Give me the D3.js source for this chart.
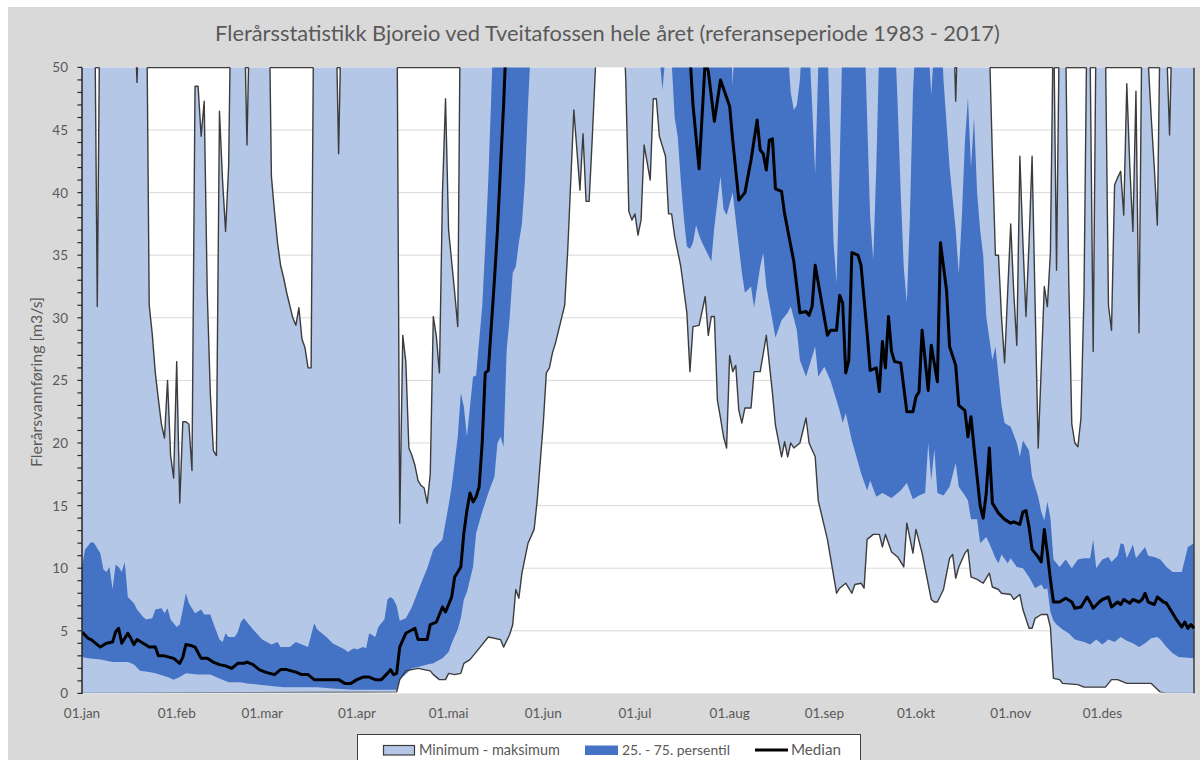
<!DOCTYPE html>
<html><head><meta charset="utf-8">
<script src="https://cdn.jsdelivr.net/npm/d3@7"></script>
<style>body{margin:0;background:#fff;}svg{display:block;}</style>
</head><body>
<svg id="chart" width="1200" height="760"></svg>
<script>
// ---------------- DATA ----------------
const chartTitle = "Flerårsstatistikk Bjoreio ved Tveitafossen hele året (referanseperiode 1983 - 2017)";
const yAxisTitle = "Flerårsvannføring [m3/s]";
const monthLabels = ["01.jan","01.feb","01.mar","01.apr","01.mai","01.jun","01.jul","01.aug","01.sep","01.okt","01.nov","01.des"];
const monthStartDays = [0,31,59,90,120,151,181,212,243,273,304,334];
const yTickValues = [0,5,10,15,20,25,30,35,40,45,50];
const legendLabels = ["Minimum - maksimum","25. - 75. persentil","Median"];

// [day of year, m3/s]
const maxSeries = [[0,60],[4,60],[5,30.9],[6,60],[17,56],[18,48.8],[19,56],[21,60],[22,31.0],[23,28.7],[24,25.6],[25,23.5],[26,21.5],[27,20.4],[28,25.0],[29,19.0],[30,17.2],[31,26.5],[32,15.2],[33,21.7],[34,21.7],[35,21.5],[36,17.8],[37,48.5],[38,48.5],[39,44.5],[40,47.3],[41,32.0],[42,24.0],[43,19.4],[44,19.0],[45,46.5],[46,41.0],[47,36.9],[48,42.1],[49,60],[53,56],[54,43.8],[55,56],[61,60],[62,41.3],[63,38.5],[64,36.0],[65,34.2],[66,33.2],[67,32.0],[68,31.0],[69,30.0],[70,29.4],[71,30.8],[72,28.3],[73,27.6],[74,26.0],[75,26.0],[76,60],[83,56],[84,43.1],[85,56],[103,60],[104,13.6],[105,28.6],[106,26.5],[107,19.6],[108,19.0],[109,18.2],[110,17.0],[111,16.6],[112,16.4],[113,15.2],[114,17.5],[115,30.1],[116,28.5],[117,25.6],[118,40.0],[119,47.5],[120,37.0],[121,34.5],[122,32.0],[123,29.3],[124,60],[285,56],[286,47.3],[287,56],[296,60],[297,52],[298,43],[299,35.0],[300,35.0],[301,30.0],[302,26.4],[303,32.0],[304,37.5],[305,32.0],[306,27.8],[307,42.9],[308,36.0],[309,30.1],[310,36.0],[311,42.9],[312,31.0],[313,19.6],[314,26.0],[315,32.5],[316,30.9],[317,35.2],[318,55],[319,33.8],[320,55],[321,60],[322,52],[323,33],[324,21.5],[325,20.0],[326,19.7],[327,22.0],[328,32.0],[329,55],[330,51],[331,27.3],[332,55],[334,60],[335,52],[336,31],[337,29.0],[338,40.6],[339,41.2],[340,41.7],[341,38.2],[342,48.7],[343,42],[344,36.9],[345,48.1],[346,28.8],[347,55],[348,55],[349,50.5],[350,46],[351,42],[352,37.4],[353,55],[355,52],[356,44.6],[357,55],[364,60]];

const minSeries = [[0,0],[103,0.1],[104,1.1],[106,1.8],[110,2.0],[114,1.8],[115,1.5],[117,1.1],[119,1.1],[120,1.6],[122,1.5],[124,1.6],[125,2.4],[127,2.7],[130,3.6],[133,4.5],[137,4.3],[138,3.7],[140,4.7],[141,5.5],[142,8.3],[143,7.6],[144,9.6],[146,12.0],[148,13.1],[149,15.4],[151,21.6],[152,25.6],[153,26.0],[154,27.2],[155,28.0],[157,30.0],[158,31.0],[159,35.4],[161,46.6],[163,40.2],[164,44.7],[165,39.3],[166,39.3],[167,44.2],[169,55],[177,55],[178,49],[179,38.5],[180,37.8],[181,38.3],[182,36.6],[183,37.8],[184,43.8],[186,41.0],[187,47.5],[188,47.5],[189,44.5],[190,43.7],[191,42.9],[192,38.3],[193,38.3],[194,36.5],[196,34.1],[198,30.4],[199,25.7],[200,29.3],[202,29.4],[204,31.7],[205,28.6],[206,30.1],[207,30.1],[208,23.4],[209,22.0],[210,20.5],[211,19.6],[212,27.0],[213,25.7],[214,26.2],[215,22.6],[216,21.6],[217,22.8],[219,22.8],[220,25.7],[222,25.7],[224,28.6],[226,24.0],[227,21.4],[229,18.9],[230,20.1],[231,18.9],[232,20.0],[233,19.6],[235,20.0],[237,22.0],[238,20.0],[240,18.9],[241,15.4],[244,12.3],[247,8.0],[248,8.4],[250,8.8],[252,8.0],[253,8.7],[255,8.8],[256,8.4],[257,12.3],[259,12.7],[261,12.7],[262,11.7],[263,12.7],[265,11.3],[267,10.9],[269,10.1],[270,13.6],[272,11.2],[273,13.1],[275,11.2],[278,7.5],[279,7.3],[280,7.3],[282,8.3],[284,10.8],[285,11.1],[286,9.2],[287,10.1],[289,11.2],[290,11.5],[291,9.3],[293,9.1],[295,8.8],[297,9.6],[298,8.5],[300,8.3],[301,8.0],[304,7.9],[305,7.5],[307,7.9],[308,6.7],[310,5.2],[311,5.2],[312,6.0],[314,6.3],[316,6.3],[317,5.3],[318,1.2],[320,1.1],[321,0.8],[326,0.7],[328,0.5],[335,0.5],[337,1.1],[339,1.1],[342,0.8],[350,0.8],[353,0.1],[355,0],[364,0]];

const p25Series = [[0,2.9],[2,2.8],[6,2.7],[10,2.5],[15,2.5],[17,2.3],[19,1.8],[22,1.7],[24,1.6],[28,1.3],[30,1.1],[32,1.3],[34,1.6],[38,1.5],[42,1.5],[45,1.2],[48,0.9],[52,0.9],[54,0.8],[58,0.7],[66,0.5],[77,0.5],[82,0.4],[89,0.3],[103,0.3],[104,1.1],[108,2.0],[110,2.1],[113,2.3],[115,2.4],[118,2.8],[120,3.3],[121,4.0],[123,5.1],[124,6.0],[125,7.5],[126,8.1],[127,9.1],[128,10.1],[129,12.8],[131,14.5],[133,16.0],[135,17.3],[136,20.0],[137,20.5],[138,19.7],[139,27.4],[140,30.0],[141,33.6],[142,34.1],[143,36.0],[144,37.5],[145,41.0],[146,47.0],[147,52],[188,55],[189,51],[190,48.2],[191,51],[192,53],[193,50.5],[194,46],[195,44.5],[196,41],[197,38],[198,35.7],[199,35.5],[200,36],[201,37.4],[202,36.6],[203,36],[204,35.5],[206,34.5],[207,37.3],[209,41.3],[210,38.7],[211,38.2],[212,39.1],[213,40],[214,37.8],[216,33.6],[217,32.0],[219,32.5],[220,30.8],[221,32.5],[222,34.1],[223,35.2],[224,32.5],[226,29.8],[227,28.4],[229,29.8],[231,30.4],[232,30.9],[234,29],[235,26.6],[237,25.3],[240,27.7],[241,25.3],[243,26.1],[245,25.0],[246,24.2],[248,22.6],[249,21.6],[250,22.4],[252,20.2],[255,17.6],[257,16.2],[258,17.0],[260,15.7],[262,16.0],[265,15.6],[268,16.2],[270,16.8],[272,15.5],[274,15.8],[276,16],[277,20.0],[278,17],[279,19.5],[280,16],[282,15.8],[284,16.5],[286,18.4],[287,16.5],[289,15.8],[290,15.4],[291,13.9],[293,13.9],[294,12.0],[296,12.5],[297,12.0],[299,10.8],[300,10.4],[301,11.1],[303,10.4],[304,10.8],[306,10.1],[308,10.0],[310,9.3],[312,8.4],[314,8.7],[315,8.3],[316,8.4],[317,6.5],[318,5.8],[319,5.5],[321,5.1],[323,4.8],[325,4.3],[328,4.1],[330,3.9],[332,4.3],[334,3.9],[336,4.3],[338,4.1],[340,4.5],[342,4.2],[344,4.0],[346,3.7],[348,4.0],[350,4.4],[352,4.5],[353,4.3],[355,3.7],[357,3.2],[359,2.9],[364,2.8]];

const p75Series = [[0,10.1],[1,11.5],[3,12.1],[4,12.0],[6,11.2],[7,9.9],[8,9.7],[9,10.1],[10,8.3],[11,10.3],[12,10.1],[13,9.7],[14,10.5],[15,7.7],[17,7.2],[18,6.7],[20,6.1],[21,5.9],[23,6.0],[24,6.7],[26,6.8],[27,6.4],[28,6.8],[29,5.9],[31,5.3],[32,5.5],[33,6.7],[34,8.0],[35,7.2],[37,6.4],[39,6.7],[40,6.3],[42,6.3],[43,5.6],[45,4.3],[46,4.1],[47,4.8],[48,4.5],[50,4.5],[51,4.9],[52,5.7],[53,6.0],[54,5.7],[56,5.1],[59,4.3],[62,3.9],[64,4.1],[65,3.7],[68,3.7],[70,4.1],[72,3.9],[74,3.7],[76,5.6],[77,5.1],[80,4.5],[82,4.0],[86,3.5],[87,3.3],[89,3.6],[90,3.5],[92,3.7],[93,3.6],[94,4.8],[96,4.5],[97,5.3],[99,5.9],[100,7.5],[101,7.7],[102,7.5],[103,7.0],[104,5.8],[106,6.0],[108,6.9],[111,8.8],[113,10.0],[115,11.5],[118,12.3],[120,15.0],[121,16.5],[123,20.5],[124,24.0],[125,22.9],[126,20.5],[128,25.3],[129,25.4],[131,30.9],[132,35.7],[133,41.0],[134,48],[135,55],[212,55],[213,48.5],[214,55],[229,60],[230,55],[232,48],[233,46.6],[234,47],[235,49],[236,53],[238,52],[239,47],[240,41.5],[241,50],[242,55],[244,52],[245,44],[246,36],[247,32.8],[248,42],[249,53],[256,54],[257,46],[258,38],[259,34.6],[260,42],[261,52],[266,53],[267,47],[268,40],[269,34],[270,31.2],[271,38],[272,48],[273,53],[277,52],[278,47.8],[279,52],[281,55],[282,49],[284,42],[286,37],[287,33.5],[288,38],[289,44],[290,47.6],[291,42],[292,46],[293,40],[294,37],[295,35],[296,30.1],[298,26.6],[299,27.7],[301,23],[302,21.6],[304,21.3],[306,20.0],[307,18.9],[308,20.2],[310,19.4],[311,17.3],[313,15.7],[314,14.5],[315,13.8],[316,15.3],[317,14],[318,10.7],[320,10.1],[322,10.7],[324,10.0],[326,10.7],[328,10.8],[330,10.8],[331,12.3],[332,10.0],[334,10.7],[336,10.9],[337,10.5],[339,11.0],[340,12.0],[341,11.9],[342,10.8],[344,11.9],[345,10.8],[348,11.7],[349,11.0],[351,10.9],[353,10.7],[355,10.1],[357,9.7],[360,9.7],[362,11.7],[364,12.0]];

const medianSeries = [[0,4.9],[2,4.4],[3,4.3],[5,3.9],[6,3.7],[8,4.0],[10,4.1],[11,4.9],[12,5.2],[13,4.0],[15,4.8],[16,4.4],[17,3.9],[18,4.3],[20,4.0],[22,3.7],[24,3.7],[25,3.0],[27,3.0],[30,2.8],[32,2.4],[33,2.9],[34,3.9],[36,3.8],[37,3.7],[39,2.8],[41,2.8],[43,2.5],[45,2.3],[47,2.2],[49,2.0],[51,2.4],[53,2.4],[54,2.5],[56,2.3],[58,1.9],[60,1.7],[63,1.5],[65,1.9],[67,1.9],[70,1.7],[72,1.5],[74,1.5],[76,1.1],[84,1.1],[86,0.8],[88,0.8],[90,1.1],[92,1.3],[94,1.3],[96,1.1],[98,1.1],[100,1.6],[101,1.9],[102,1.5],[103,1.6],[104,3.7],[106,4.8],[109,5.2],[110,4.3],[113,4.3],[114,5.5],[116,5.7],[118,6.9],[119,6.5],[121,7.7],[122,9.3],[124,10.1],[125,12.8],[126,14.6],[127,16.0],[128,15.3],[129,15.7],[130,16.5],[131,20.0],[132,25.6],[133,25.8],[135,33],[136,37],[137,42],[138,47],[139,53],[198,54],[199,51],[200,47],[202,41.9],[204,50.5],[205,49.7],[207,45.7],[209,49.0],[212,46.9],[213,44.2],[215,39.4],[217,40.0],[219,42.6],[221,45.8],[222,43.4],[223,43.1],[224,41.8],[225,44.2],[226,44.3],[227,40.3],[229,40.1],[230,38.3],[233,34.5],[235,30.4],[237,30.5],[238,30.2],[239,30.9],[240,34.2],[241,32.8],[244,28.6],[245,29.0],[247,29.0],[248,31.8],[249,31.2],[250,25.6],[251,26.6],[252,35.2],[254,35.0],[255,34.2],[257,28.8],[258,25.8],[260,26.0],[261,24.1],[262,28.1],[263,26.0],[264,30.1],[265,27.3],[266,26.5],[268,26.4],[270,22.5],[272,22.5],[273,23.7],[274,24.1],[275,29.0],[277,24.2],[278,27.8],[280,24.9],[281,36.0],[283,32.2],[284,27.7],[286,26.2],[287,23.0],[289,22.6],[290,20.5],[291,22.1],[292,19.6],[294,15.0],[295,14.0],[296,16.0],[297,19.6],[298,15.2],[300,14.4],[302,13.9],[304,13.6],[305,13.7],[307,13.5],[308,14.5],[309,14.6],[310,13.3],[311,11.5],[313,10.9],[314,10.5],[315,13.1],[316,11.2],[317,9.1],[318,7.3],[320,7.3],[322,7.6],[324,7.3],[325,6.8],[327,6.9],[329,7.7],[330,7.3],[331,6.8],[333,7.3],[334,7.5],[336,7.7],[337,6.9],[339,7.3],[340,7.1],[341,7.5],[343,7.2],[344,7.5],[346,7.3],[347,7.5],[348,8.0],[349,7.3],[351,7.1],[352,7.7],[354,7.3],[355,7.2],[357,6.4],[358,6.0],[360,5.3],[361,5.7],[362,5.2],[363,5.5],[364,5.2]];

// ---------------- DRAW ----------------
const FONT = "Lato, 'Open Sans', sans-serif";
const TXT = "#595959";
const LIGHT = "#b4c7e7", DARK = "#4472c4", OUTLINE = "#3c3c3c";
const svg = d3.select("#chart");
const plot = {left: 82, right: 1194, top: 67.4, bottom: 693.4};
const x = d3.scaleLinear().domain([0, 364]).range([plot.left, plot.right]);
const y = d3.scaleLinear().domain([0, 50]).range([plot.bottom, plot.top]);
const yMax = y.domain()[1];

svg.append("rect").attr("width", 1200).attr("height", 760).attr("fill", "#ffffff");
svg.append("rect").attr("x", 8).attr("y", 7).attr("width", 1192).attr("height", 753).attr("fill", "#d9d9d9");

const defs = svg.append("defs");
defs.append("clipPath").attr("id", "clipPlot").append("rect")
  .attr("x", plot.left).attr("y", plot.top).attr("width", plot.right - plot.left + 2).attr("height", plot.bottom - plot.top);
defs.append("clipPath").attr("id", "clipMin").append("rect")
  .attr("x", plot.left).attr("y", plot.top).attr("width", plot.right - plot.left + 2).attr("height", plot.bottom - plot.top - 1);

svg.append("rect").attr("x", plot.left).attr("y", plot.top)
  .attr("width", plot.right - plot.left).attr("height", plot.bottom - plot.top).attr("fill", "#ffffff");

// gridlines
svg.append("g").selectAll("line").data(yTickValues.filter(v => v > 0 && v < yMax)).join("line")
  .attr("x1", plot.left).attr("x2", plot.right)
  .attr("y1", d => y(d)).attr("y2", d => y(d))
  .attr("stroke", "#d9d9d9").attr("stroke-width", 1);

const g = svg.append("g").attr("clip-path", "url(#clipPlot)");
const line = d3.line().x(d => x(d[0])).y(d => y(d[1]));

// min - max band
g.append("path").attr("d", line(maxSeries.concat(minSeries.slice().reverse())) + "Z").attr("fill", LIGHT);
// 25 - 75 band
g.append("path").attr("d", line(p75Series.concat(p25Series.slice().reverse())) + "Z").attr("fill", DARK);

// outlines of min-max band
g.append("path").attr("d", line(maxSeries)).attr("fill", "none").attr("stroke", OUTLINE).attr("stroke-width", 1.4).attr("stroke-linejoin", "round");
svg.append("path").attr("clip-path", "url(#clipMin)").attr("d", line(minSeries)).attr("fill", "none").attr("stroke", OUTLINE).attr("stroke-width", 1.4).attr("stroke-linejoin", "round");
// closing edge at end of year
const last = maxSeries[maxSeries.length - 1][0];
g.append("line").attr("x1", x(last)).attr("x2", x(last)).attr("y1", y(0)).attr("y2", y(yMax))
  .attr("stroke", OUTLINE).attr("stroke-width", 1.5);

// top edge where maximum is below axis max
const segs = [];
let start = null;
for (let i = 0; i < maxSeries.length - 1; i++) {
  const [d0, v0] = maxSeries[i], [d1, v1] = maxSeries[i + 1];
  if (v0 >= yMax && v1 < yMax) start = d0 + (d1 - d0) * (v0 - yMax) / (v0 - v1);
  if (v0 < yMax && v1 >= yMax && start !== null) {
    segs.push([start, d0 + (d1 - d0) * (yMax - v0) / (v1 - v0)]);
    start = null;
  }
}
svg.append("g").selectAll("line").data(segs).join("line")
  .attr("x1", d => x(d[0])).attr("x2", d => x(d[1]))
  .attr("y1", y(yMax) + 0.3).attr("y2", y(yMax) + 0.3)
  .attr("stroke", OUTLINE).attr("stroke-width", 1.3);

// median
g.append("path").attr("d", line(medianSeries)).attr("fill", "none").attr("stroke", "#000").attr("stroke-width", 3).attr("stroke-linejoin", "round");

// y axis
svg.append("line").attr("x1", plot.left).attr("x2", plot.left).attr("y1", plot.top).attr("y2", plot.bottom + 0.5)
  .attr("stroke", "#262626").attr("stroke-width", 1.5);
svg.append("g").selectAll("line").data(d3.range(0, yMax + 1, 1)).join("line")
  .attr("x1", plot.left - 4.5).attr("x2", plot.left).attr("y1", d => y(d)).attr("y2", d => y(d))
  .attr("stroke", "#262626").attr("stroke-width", 1.2);
svg.append("g").selectAll("text").data(yTickValues).join("text")
  .attr("x", 68).attr("y", d => y(d) + 5).attr("text-anchor", "end")
  .attr("font-family", FONT).attr("font-size", 13.5).attr("fill", TXT).text(d => d);

// x labels
svg.append("g").selectAll("text").data(monthLabels).join("text")
  .attr("x", (d, i) => x(monthStartDays[i])).attr("y", 718).attr("text-anchor", "middle")
  .attr("font-family", FONT).attr("font-size", 13.5).attr("fill", TXT).text(d => d);

function fitWidth(sel, target) {
  const w = sel.node().getComputedTextLength();
  const fs = parseFloat(sel.attr("font-size"));
  if (w > 0) sel.attr("font-size", fs * target / w);
}

// title
const t = svg.append("text").attr("x", 607.5).attr("y", 41).attr("text-anchor", "middle")
  .attr("font-family", FONT).attr("font-size", 20).attr("fill", TXT).text(chartTitle);
fitWidth(t, 785);

// y axis title
const yt = svg.append("text").attr("transform", "translate(42,382) rotate(-90)").attr("text-anchor", "middle")
  .attr("font-family", FONT).attr("font-size", 13).attr("fill", TXT).text(yAxisTitle);
fitWidth(yt, 170);

// legend
const lg = svg.append("g");
lg.append("rect").attr("x", 357.5).attr("y", 734.5).attr("width", 503).attr("height", 40)
  .attr("fill", "#fff").attr("stroke", "#404040").attr("stroke-width", 1);
lg.append("rect").attr("x", 383.5).attr("y", 745.5).attr("width", 31).attr("height", 9.5)
  .attr("fill", LIGHT).attr("stroke", OUTLINE).attr("stroke-width", 1.2);
lg.append("rect").attr("x", 585).attr("y", 745.5).attr("width", 33).attr("height", 9.5).attr("fill", DARK);
lg.append("line").attr("x1", 755).attr("x2", 788).attr("y1", 750).attr("y2", 750).attr("stroke", "#000").attr("stroke-width", 3);
const legendX = [419, 622, 791];
const legendW = [141, 108, 50];
legendLabels.forEach((lab, i) => {
  const tx = lg.append("text").attr("x", legendX[i]).attr("y", 754.5)
    .attr("font-family", FONT).attr("font-size", 13.5).attr("fill", TXT).text(lab);
  fitWidth(tx, legendW[i]);
});
</script>
</body></html>
